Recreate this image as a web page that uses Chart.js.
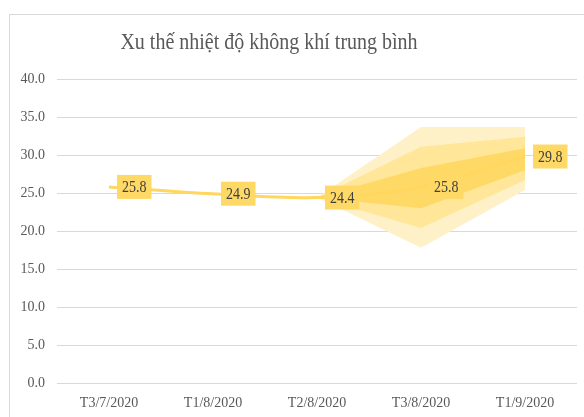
<!DOCTYPE html>
<html>
<head>
<meta charset="utf-8">
<script src="https://cdn.jsdelivr.net/npm/chart.js@4"></script>
<style>
html,body{margin:0;padding:0;background:#fff;overflow:hidden;}
#wrap{position:relative;width:584px;height:417px;}
</style>
</head>
<body>
<div id="wrap"><canvas id="c" width="584" height="417"></canvas></div>
<script>
const categories = ['T3/7/2020','T1/8/2020','T2/8/2020','T3/8/2020','T1/9/2020'];
const temperature = [25.8, 24.9, 24.4, 25.8, 29.8];
const innerHigh = [null, null, 24.4, 28.3, 30.9];
const innerLow  = [null, null, 24.4, 23.0, 28.0];
const midHigh   = [null, null, 24.4, 31.1, 32.4];
const midLow    = [null, null, 24.4, 20.4, 26.7];
const outerHigh = [null, null, 24.4, 33.7, 33.7];
const outerLow  = [null, null, 24.4, 17.8, 25.4];
const yTicks = [0, 5, 10, 15, 20, 25, 30, 35, 40];
const titleText = 'Xu thế nhiệt độ không khí trung bình';

const SERIF = '"Liberation Serif", "DejaVu Serif", serif';

const bandStyle = {borderWidth: 0, pointRadius: 0, tension: 0, pointHoverRadius: 0};

const frameAndTitle = {
  id: 'frameAndTitle',
  beforeDraw(chart) {
    const ctx = chart.ctx;
    ctx.save();
    ctx.fillStyle = '#fff';
    ctx.fillRect(0, 0, chart.width, chart.height);
    ctx.strokeStyle = '#d9d9d9';
    ctx.lineWidth = 1;
    ctx.strokeRect(9.5, 14.5, 800, 800);
    ctx.fillStyle = '#595959';
    ctx.font = '20px ' + SERIF;
    ctx.textAlign = 'center';
    ctx.textBaseline = 'middle';
    ctx.translate(269, 43);
    ctx.scale(1, 1.2);
    ctx.fillText(titleText, 0, 0);
    ctx.restore();
  }
};

const boxLabels = {
  id: 'boxLabels',
  afterDatasetsDraw(chart) {
    const ctx = chart.ctx;
    const meta = chart.getDatasetMeta(0);
    ctx.save();
    ctx.font = '14px ' + SERIF;
    ctx.textBaseline = 'middle';
    ctx.textAlign = 'left';
    meta.data.forEach((el, i) => {
      const txt = temperature[i].toFixed(1);
      const w = ctx.measureText(txt).width + 10;
      const h = 24;
      const x = el.x + 8;
      const y = el.y - h / 2;
      ctx.fillStyle = '#FFD966';
      ctx.fillRect(x, y, w, h);
      ctx.save();
      ctx.fillStyle = '#404040';
      ctx.translate(x + 5, el.y + 1);
      ctx.scale(1, 1.2);
      ctx.fillText(txt, 0, 0);
      ctx.restore();
    });
    ctx.restore();
  }
};

new Chart(document.getElementById('c'), {
  type: 'line',
  data: {
    labels: categories,
    datasets: [
      {label: 'Nhiệt độ', data: temperature, borderColor: '#FFD75E', borderWidth: 3,
       pointRadius: 0, tension: 0.3, fill: false},
      Object.assign({label: 'inH', data: innerHigh, fill: false}, bandStyle),
      Object.assign({label: 'inL', data: innerLow, fill: '-1', backgroundColor: '#FFD966'}, bandStyle),
      Object.assign({label: 'midH', data: midHigh, fill: false}, bandStyle),
      Object.assign({label: 'midL', data: midLow, fill: '-1', backgroundColor: '#FFE699'}, bandStyle),
      Object.assign({label: 'outH', data: outerHigh, fill: false}, bandStyle),
      Object.assign({label: 'outL', data: outerLow, fill: '-1', backgroundColor: '#FFF1C7'}, bandStyle)
    ]
  },
  options: {
    responsive: false,
    devicePixelRatio: 1,
    animation: false,
    layout: {padding: {left: 0, right: 7, top: 79, bottom: 0}},
    plugins: {legend: {display: false}, title: {display: false}, tooltip: {enabled: false}},
    scales: {
      x: {
        offset: true,
        grid: {display: false, drawTicks: false},
        border: {display: false},
        ticks: {color: '#595959', font: {family: SERIF, size: 14}, padding: 12, maxRotation: 0},
        afterFit(scale) { scale.height = 34; }
      },
      y: {
        min: 0, max: 40,
        afterBuildTicks(scale) { scale.ticks = yTicks.map(v => ({value: v})); },
        grid: {color: '#d9d9d9', drawTicks: false},
        border: {display: false},
        ticks: {color: '#595959', font: {family: SERIF, size: 14}, padding: 12,
                callback: v => Number(v).toFixed(1)},
        afterFit(scale) { scale.width = 57; }
      }
    }
  },
  plugins: [frameAndTitle, boxLabels]
});
</script>
</body>
</html>
